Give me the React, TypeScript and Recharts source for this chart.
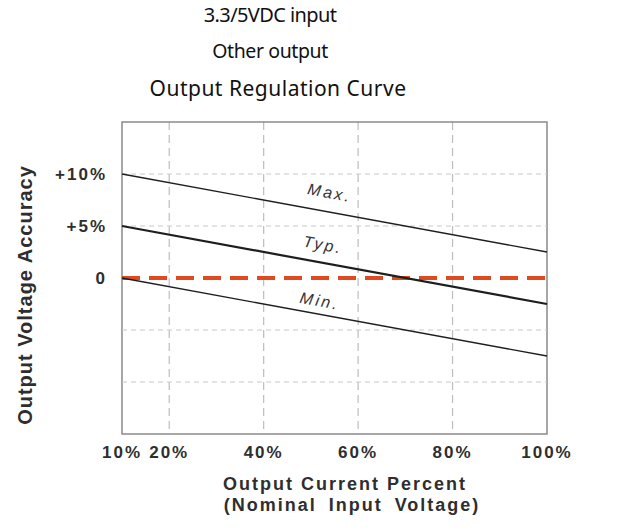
import {
  LineChart,
  Line,
  XAxis,
  YAxis,
  CartesianGrid,
  ReferenceLine,
  ReferenceArea,
  ReferenceDot,
} from "recharts";

// load points (% of rated current) and accuracy limits (%)
const loadPercent = [10, 100];
const maxAccuracy = [10, 2.5];
const typAccuracy = [5, -2.5];
const minAccuracy = [0, -7.5];

const xTicks = [10, 20, 40, 60, 80, 100];
const leftTicks = [10, 5, 0];
const rightTicks = [2.5, -2.5, -7.5];
const gridX = [20, 40, 60, 80];
const gridY = [10, 5, -5, -10];

const curveNames = ["Max.", "Typ.", "Min."];

const data = loadPercent.map((load, i) => ({
  load,
  max: maxAccuracy[i],
  typ: typAccuracy[i],
  min: minAccuracy[i],
}));

const FONT = "'Liberation Sans', Arial, sans-serif";
const tickText: React.CSSProperties = {
  fontFamily: FONT,
  fontWeight: 700,
  fontSize: 17,
  fill: "#2e2e2e",
  letterSpacing: 2,
};

const fmtX = (v: number) => `${v}%`;
const fmtLeft = (v: number) => (v === 0 ? "0" : `+${v}%`);
const fmtRight = (v: number) => (v > 0 ? `+${v}%` : `${v}%`);

const XTick = ({ x, y, payload }: any) => (
  <text x={x} y={y + 16} textAnchor="middle" style={tickText}>
    {fmtX(payload.value)}
  </text>
);

const LeftTick = ({ x, y, payload }: any) => (
  <text x={x + 2} y={y + 6} textAnchor="end" style={tickText}>
    {fmtLeft(payload.value)}
  </text>
);

const RightTick = ({ x, y, payload }: any) => (
  <text x={x} y={y + 6} textAnchor="start" style={tickText}>
    {fmtRight(payload.value)}
  </text>
);

// where the curve names sit, in chart units
const namePos = [
  { x: 54, y: 8.2 },
  { x: 52.6, y: 3.2 },
  { x: 51.9, y: -2.2 },
];

const CurveName = ({ viewBox, text }: any) => {
  if (!viewBox) return null;
  const cx = viewBox.x + viewBox.width / 2;
  const cy = viewBox.y + viewBox.height / 2;
  return (
    <text
      x={cx}
      y={cy}
      textAnchor="middle"
      dominantBaseline="central"
      transform={`rotate(10.4, ${cx}, ${cy})`}
      style={{
        fontFamily: FONT,
        fontStyle: "italic",
        fontSize: 16,
        letterSpacing: 2.5,
        fill: "#333",
      }}
    >
      {text}
    </text>
  );
};

const XTitle = ({ viewBox }: any) => {
  if (!viewBox) return null;
  const style = {
    fontFamily: FONT,
    fontWeight: 700,
    fontSize: 18,
    fill: "#2e2e2e",
    letterSpacing: 2,
  };
  return (
    <g>
      <text x={viewBox.x + 223} y={490} textAnchor="middle" style={style}>
        Output Current Percent
      </text>
      <text
        x={viewBox.x + 230}
        y={511}
        textAnchor="middle"
        style={{ ...style, wordSpacing: 5 }}
      >
        (Nominal Input Voltage)
      </text>
    </g>
  );
};

const YTitle = () => (
  <text
    x={25}
    y={295}
    textAnchor="middle"
    dominantBaseline="central"
    transform="rotate(-90, 25, 295)"
    style={{
      fontFamily: FONT,
      fontWeight: 700,
      fontSize: 20,
      fill: "#2e2e2e",
      letterSpacing: 1,
    }}
  >
    Output Voltage Accuracy
  </text>
);

const titleStyle = (top: number, size: number): React.CSSProperties => ({
  position: "absolute",
  left: 0,
  width: 540,
  top,
  textAlign: "center",
  fontFamily: "'Noto Sans', sans-serif",
  fontSize: size,
  lineHeight: `${size}px`,
  color: "#111",
  whiteSpace: "nowrap",
});

export default function App() {
  return (
    <div
      style={{
        position: "absolute",
        left: 0,
        top: 0,
        width: 629,
        height: 530,
        background: "#fff",
      }}
    >
      <div style={{ ...titleStyle(5, 20), letterSpacing: -0.6 }}>3.3/5VDC input</div>
      <div style={{ ...titleStyle(41, 19.5), letterSpacing: -0.4 }}>Other output</div>
      <div style={{ ...titleStyle(78, 21), width: 556, letterSpacing: 0.5 }}>
        Output Regulation Curve
      </div>
      <div style={{ position: "absolute", left: 0, top: 0 }}>
        <LineChart
          width={629}
          height={530}
          data={data}
          margin={{ top: 122, right: 12, bottom: 66, left: 60 }}
        >
          <CartesianGrid
            horizontal={false}
            verticalValues={gridX}
            stroke="#bdbdbd"
            strokeWidth={1.2}
            strokeDasharray="8 5"
          />
          {gridY.map((v) => (
            <ReferenceLine
              key={v}
              yAxisId="left"
              y={v}
              stroke="#c8c8c8"
              strokeWidth={1}
              strokeDasharray="5 4"
            />
          ))}
          <XAxis
            dataKey="load"
            type="number"
            domain={[10, 100]}
            ticks={xTicks}
            axisLine={false}
            tickLine={false}
            tickSize={0}
            tickMargin={8}
            height={30}
            tick={<XTick />}
            interval={0}
            label={<XTitle />}
          />
          <YAxis
            yAxisId="left"
            type="number"
            domain={[-15, 15]}
            ticks={leftTicks}
            axisLine={false}
            tickLine={false}
            tickSize={0}
            tickMargin={17}
            width={62}
            tick={<LeftTick />}
            interval={0}
            label={<YTitle />}
          />
          <YAxis
            yAxisId="right"
            orientation="right"
            type="number"
            domain={[-15, 15]}
            ticks={rightTicks}
            axisLine={false}
            tickLine={false}
            tickSize={0}
            tickMargin={8}
            width={70}
            tick={<RightTick />}
            interval={0}
          />
          <ReferenceArea
            yAxisId="left"
            x1={10}
            x2={100}
            y1={-15}
            y2={15}
            fill="none"
            stroke="#8a8a8a"
            strokeWidth={1.5}
          />
          <ReferenceLine
            yAxisId="left"
            y={0}
            stroke="#e04a1f"
            strokeWidth={4}
            strokeDasharray="18 9"
          />
          <Line
            yAxisId="left"
            dataKey="max"
            type="linear"
            stroke="#1e1e1e"
            strokeWidth={1.4}
            dot={false}
            isAnimationActive={false}
          />
          <Line
            yAxisId="left"
            dataKey="typ"
            type="linear"
            stroke="#1e1e1e"
            strokeWidth={2.2}
            dot={false}
            isAnimationActive={false}
          />
          <Line
            yAxisId="left"
            dataKey="min"
            type="linear"
            stroke="#1e1e1e"
            strokeWidth={1.4}
            dot={false}
            isAnimationActive={false}
          />
          {curveNames.map((name, i) => (
            <ReferenceDot
              key={name}
              yAxisId="left"
              x={namePos[i].x}
              y={namePos[i].y}
              r={0}
              fill="none"
              stroke="none"
              label={<CurveName text={name} />}
            />
          ))}
        </LineChart>
      </div>
    </div>
  );
}
